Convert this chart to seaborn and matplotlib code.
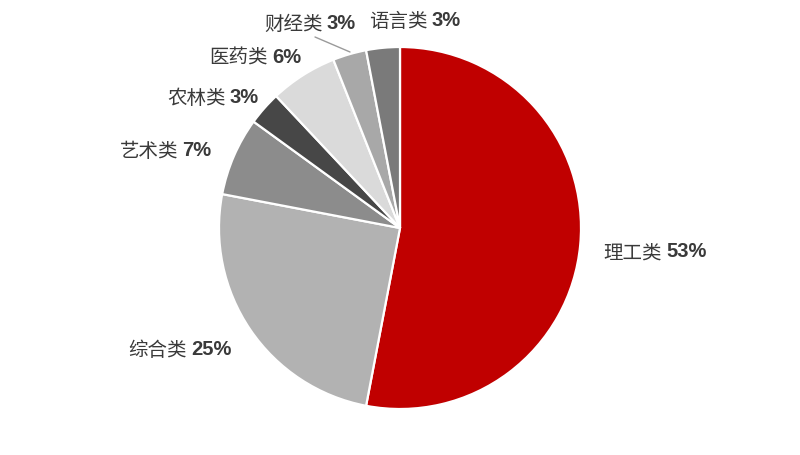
import numpy as np
import matplotlib
matplotlib.use("Agg")
import matplotlib.pyplot as plt
import seaborn as sns

categories = ["理工类", "综合类", "艺术类", "农林类", "医药类", "财经类", "语言类"]
shares = [53, 25, 7, 3, 6, 3, 3]
colors = ["#C00000", "#B2B2B2", "#8C8C8C", "#474747", "#DADADA", "#A8A8A8", "#7A7A7A"]

sns.set_theme(style="white")
plt.rcParams["font.family"] = ["Noto Sans CJK SC", "DejaVu Sans"]

W, H = 800, 456
fig = plt.figure(figsize=(W / 100, H / 100), dpi=100)
ax = fig.add_axes([0, 0, 1, 1])
ax.set_xlim(0, W)
ax.set_ylim(0, H)
ax.set_aspect("equal")
ax.axis("off")

cx, cy, R = 400, H - 229, 181
wedges, _ = ax.pie(shares, colors=colors, startangle=90, counterclock=False,
                   center=(cx, cy), radius=R, frame=True,
                   wedgeprops=dict(edgecolor="white", linewidth=1.6))
ax.set_xlim(0, W)
ax.set_ylim(0, H)
ax.axis("off")

# label layout: radial distance (px) and angular tweak (deg) from wedge mid-angle
label_dist = [256, 250, 248, 230, 226, 226, 211]
angle_adj = [0.7, -5.8, 4.4, 5.8, 7.4, 7.3, -9.4]

fig.canvas.draw()
renderer = fig.canvas.get_renderer()
txtcol = "#3A3A3A"
for w, name, val, d, adj in zip(wedges, categories, shares, label_dist, angle_adj):
    mid = np.deg2rad((w.theta1 + w.theta2) / 2 + adj)
    x = cx + d * np.cos(mid)
    y = cy + d * np.sin(mid) - 3
    t1 = ax.text(0, 0, name, fontsize=14, color=txtcol, va="center", ha="left",
                 family=["Noto Sans CJK SC", "DejaVu Sans"])
    t2 = ax.text(0, 0, f"{val}%", fontsize=14.5, color=txtcol, va="center", ha="left",
                 fontweight="bold", family=["Liberation Sans", "DejaVu Sans"])
    w1 = t1.get_window_extent(renderer).width
    w2 = t2.get_window_extent(renderer).width
    gap = 4
    total = w1 + gap + w2
    x0 = x - total / 2
    t1.set_position((x0, y))
    t2.set_position((x0 + w1 + gap, y + 1))

# leader line for 财经类
ax.plot([315, 350], [H - 38, H - 53], color="#9A9A9A", lw=1)

fig.savefig("out.png", dpi=100, facecolor="white")
